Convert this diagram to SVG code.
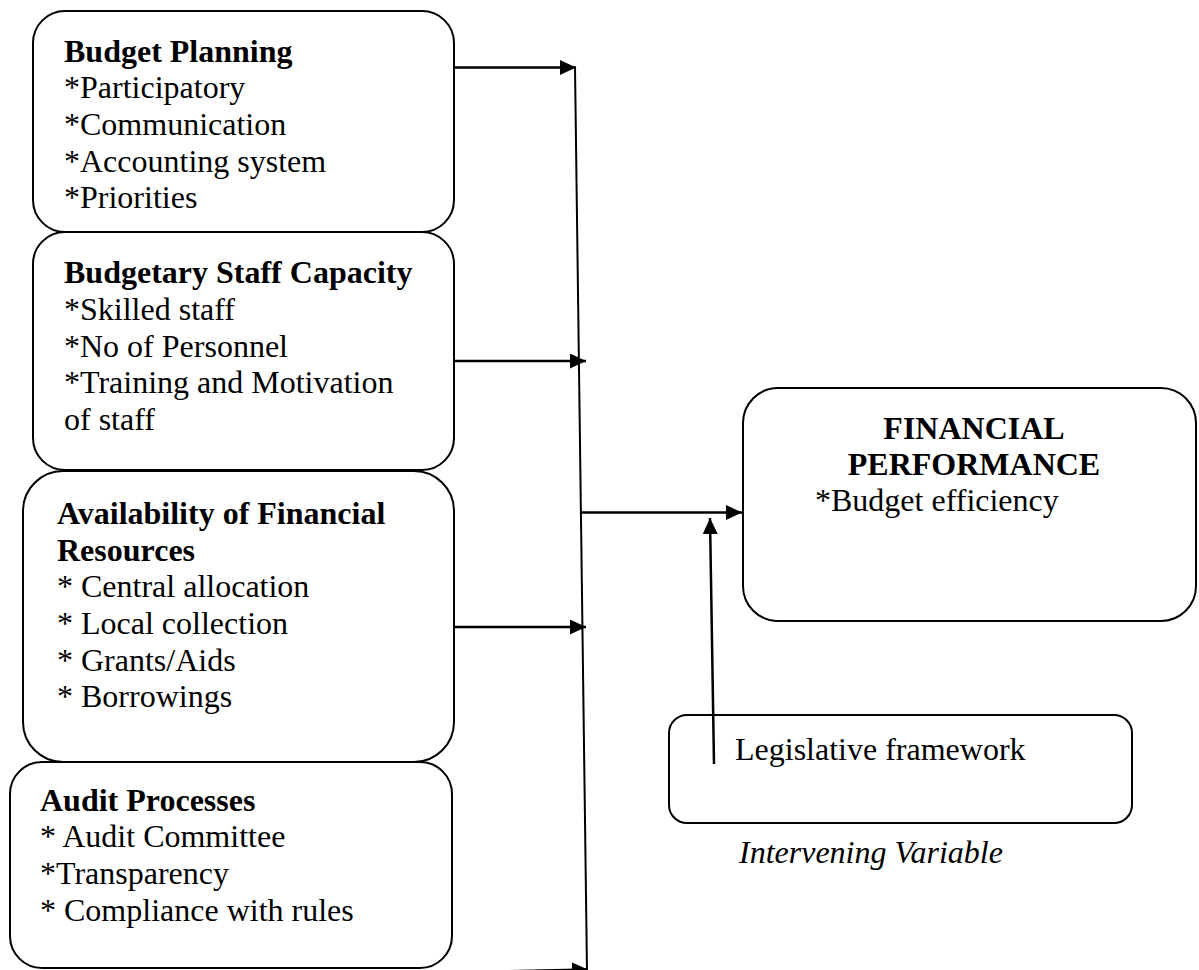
<svg xmlns="http://www.w3.org/2000/svg" width="1199" height="970" viewBox="0 0 1199 970">
  <style>
    .box { fill: #ffffff; stroke: #000000; stroke-width: 2; }
    .t { font-family: "Liberation Serif", "Times New Roman", serif; font-size: 32px; fill: #000000; }
    .b { font-weight: bold; }
    .i { font-style: italic; }
    .link { stroke: #000000; stroke-width: 2.5; fill: none; }
    .spine { stroke: #000000; stroke-width: 2; fill: none; }
  </style>
  <defs>
    <marker id="head" markerUnits="userSpaceOnUse" markerWidth="16" markerHeight="15" refX="16" refY="7.5" orient="auto">
      <path d="M0,0 L16,7.5 L0,15 Z" fill="#000000"/>
    </marker>
  </defs>

  <rect width="1199" height="970" fill="#ffffff"/>

  <!-- independent variables -->
  <g id="budget-planning">
    <rect class="box" x="33" y="11" width="421" height="221" rx="32" ry="32"/>
    <text class="t">
      <tspan class="b" x="64" y="61.7">Budget Planning</tspan>
      <tspan x="64" y="98.3">*Participatory</tspan>
      <tspan x="64" y="135">*Communication</tspan>
      <tspan x="64" y="171.5">*Accounting system</tspan>
      <tspan x="64" y="208">*Priorities</tspan>
    </text>
  </g>

  <g id="staff-capacity">
    <rect class="box" x="33" y="232" width="421" height="238" rx="32" ry="32"/>
    <text class="t">
      <tspan class="b" x="64" y="283.3">Budgetary Staff Capacity</tspan>
      <tspan x="64" y="320">*Skilled staff</tspan>
      <tspan x="64" y="356.5">*No of Personnel</tspan>
      <tspan x="64" y="393">*Training and Motivation</tspan>
      <tspan x="64" y="429.7">of staff</tspan>
    </text>
  </g>

  <g id="financial-resources">
    <rect class="box" x="23" y="471" width="431" height="291" rx="40" ry="40"/>
    <text class="t">
      <tspan class="b" x="57" y="524">Availability of Financial</tspan>
      <tspan class="b" x="57" y="560.7">Resources</tspan>
      <tspan x="57" y="597.3">* Central allocation</tspan>
      <tspan x="57" y="634">* Local collection</tspan>
      <tspan x="57" y="670.7">* Grants/Aids</tspan>
      <tspan x="57" y="707.3">* Borrowings</tspan>
    </text>
  </g>

  <g id="audit-processes">
    <rect class="box" x="10" y="762" width="442" height="206" rx="32" ry="32"/>
    <text class="t">
      <tspan class="b" x="40" y="810.7">Audit Processes</tspan>
      <tspan x="40" y="847.3">* Audit Committee</tspan>
      <tspan x="40" y="884">*Transparency</tspan>
      <tspan x="40" y="920.7">* Compliance with rules</tspan>
    </text>
  </g>

  <!-- dependent variable -->
  <g id="financial-performance">
    <rect class="box" x="743" y="388" width="453" height="233" rx="35" ry="35"/>
    <text class="t b" x="974" y="439" text-anchor="middle">FINANCIAL</text>
    <text class="t b" x="974" y="475" text-anchor="middle">PERFORMANCE</text>
    <text class="t" x="815" y="510.7">*Budget efficiency</text>
  </g>

  <!-- intervening variable -->
  <g id="legislative-framework">
    <rect class="box" x="669" y="715" width="463" height="108" rx="18" ry="18"/>
    <text class="t" x="735" y="760">Legislative framework</text>
  </g>
  <text class="t i" x="739" y="863">Intervening Variable</text>

  <!-- connectors -->
  <g id="connectors">
    <line class="spine" x1="575" y1="67" x2="587" y2="971"/>
    <line class="link" x1="454" y1="67.5" x2="576" y2="67.5" marker-end="url(#head)"/>
    <line class="link" x1="454" y1="361" x2="586" y2="361" marker-end="url(#head)"/>
    <line class="link" x1="454" y1="627" x2="586" y2="627" marker-end="url(#head)"/>
    <line class="link" x1="454" y1="972.5" x2="588" y2="969.5" marker-end="url(#head)"/>
    <line class="link" x1="581" y1="512.5" x2="742" y2="512.5" marker-end="url(#head)"/>
    <line class="link" x1="714" y1="764" x2="710" y2="518" marker-end="url(#head)"/>
  </g>
</svg>
